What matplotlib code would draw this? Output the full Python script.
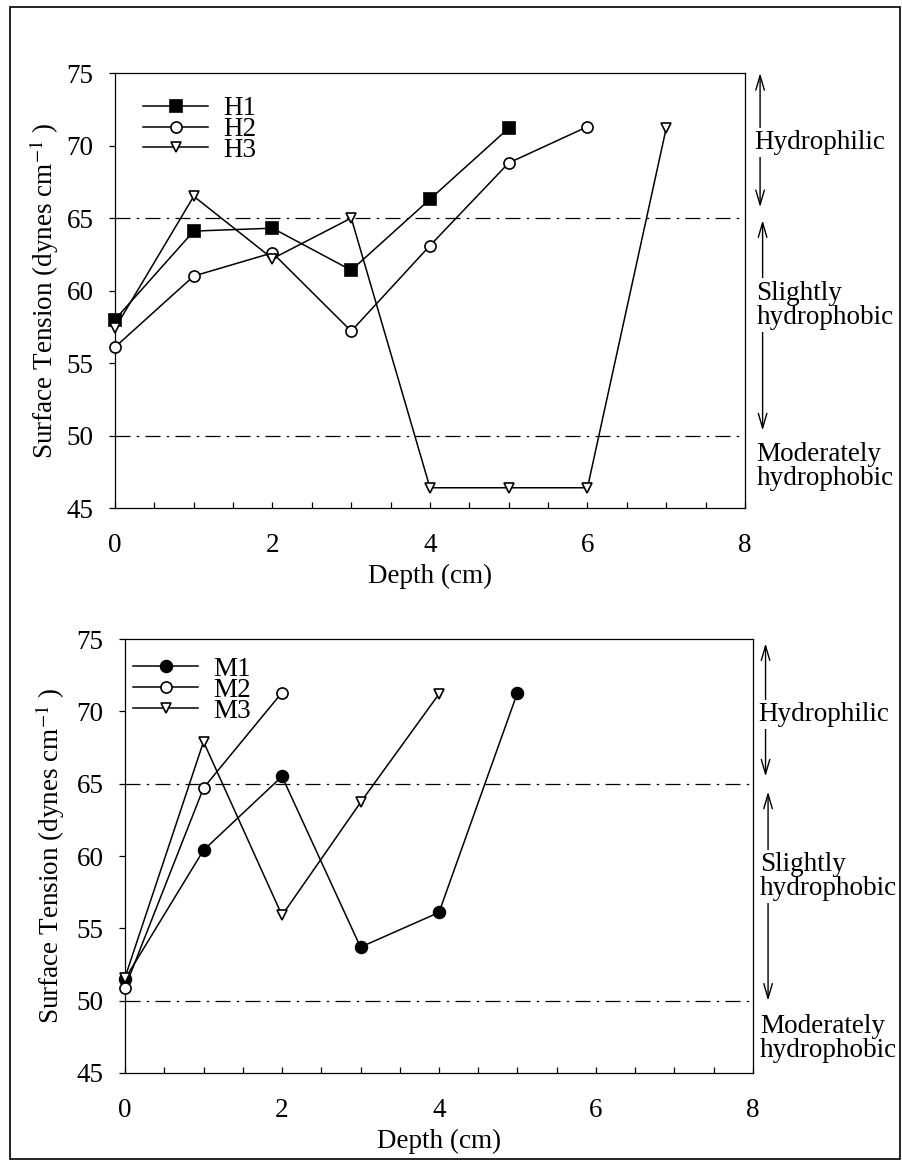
import matplotlib
matplotlib.use("Agg")
import matplotlib.pyplot as plt
from matplotlib.patches import Rectangle

plt.rcParams['font.family'] = ['Liberation Serif', 'DejaVu Serif']
plt.rcParams['mathtext.fontset'] = 'stix'

# surface tension profiles (dynes cm^-1) against depth (cm)
h1_depth = [0, 1, 2, 3, 4, 5]
h1_st = [58.0, 64.1, 64.3, 61.4, 66.3, 71.2]
h2_depth = [0, 1, 2, 3, 4, 5, 6]
h2_st = [56.1, 61.0, 62.6, 57.2, 63.1, 68.8, 71.3]
h3_depth = [0, 1, 2, 3, 4, 5, 6, 7]
h3_st = [57.4, 66.5, 62.2, 65.0, 46.4, 46.4, 46.4, 71.2]

m1_depth = [0, 1, 2, 3, 4, 5]
m1_st = [51.5, 60.4, 65.5, 53.7, 56.1, 71.3]
m2_depth = [0, 1, 2]
m2_st = [50.9, 64.7, 71.3]
m3_depth = [0, 1, 2, 3, 4]
m3_st = [51.6, 67.9, 55.9, 63.7, 71.2]

# class boundaries
limits = [65, 50]

FS = 19.5

fig = plt.figure(figsize=(9.02, 11.61), dpi=100)
fig.patches.append(Rectangle((10 / 902, 1 - 1159 / 1161), 890 / 902, 1152 / 1161,
                             transform=fig.transFigure, fill=False, lw=1.2,
                             edgecolor='black'))

ax1 = fig.add_axes([0.1275, 0.5624, 0.6984, 0.3747])
ax2 = fig.add_axes([0.1386, 0.0758, 0.6962, 0.3738])


def draw_series(ax, x, y, marker, face, ms, label):
    ax.plot(x, y, color='black', lw=1.1, marker=marker, ms=ms,
            markerfacecolor=face, markeredgecolor='black', mew=1.2,
            label=label, clip_on=False, zorder=3)


def setup(ax):
    ax.set_xlim(0, 8)
    ax.set_ylim(45, 75)
    ax.set_xticks([0, 2, 4, 6, 8])
    ax.set_xticks([x * 0.5 for x in range(17)], minor=True)
    ax.set_yticks([45, 50, 55, 60, 65, 70, 75])
    ax.tick_params(axis='x', which='both', direction='in', length=4.5,
                   width=0.9, labelsize=FS, pad=18)
    ax.tick_params(axis='x', which='both', top=False)
    ax.tick_params(axis='y', direction='out', length=4.5, width=0.9,
                   labelsize=FS, pad=11)
    for s in ax.spines.values():
        s.set_linewidth(0.9)
    for v in limits:
        ax.axhline(v, color='black', lw=0.9, dashes=(12, 5, 2, 5), zorder=1)
    ax.set_xlabel('Depth (cm)', fontsize=FS, labelpad=4)
    ax.set_ylabel('Surface Tension (dynes cm$^{-1}$ )', fontsize=FS)


def zones(ax, xa, xt, hyd, sli, mod):
    tr = ax.get_yaxis_transform()
    arrow = dict(arrowstyle='<->,head_length=0.75,head_width=0.22',
                 lw=1.0, color='black', shrinkA=0, shrinkB=0)
    box = dict(facecolor='white', edgecolor='none', pad=1.5)
    # hydrophilic band
    ax.annotate('', xy=(xa, hyd[1]), xytext=(xa, hyd[0]), xycoords=tr,
                textcoords=tr, arrowprops=dict(arrow, mutation_scale=14),
                annotation_clip=False)
    ax.text(xt, hyd[2], 'Hydrophilic', transform=tr, fontsize=FS,
            ha='left', va='center', bbox=box, clip_on=False)
    # slightly hydrophobic band
    ax.annotate('', xy=(xa + 0.004, sli[1]), xytext=(xa + 0.004, sli[0]),
                xycoords=tr, textcoords=tr,
                arrowprops=dict(arrow, mutation_scale=14),
                annotation_clip=False)
    ax.text(xt + 0.003, sli[2], 'Slightly\nhydrophobic', transform=tr,
            fontsize=FS, ha='left', va='center', linespacing=0.95,
            bbox=box, clip_on=False)
    ax.text(xt + 0.003, mod, 'Moderately\nhydrophobic', transform=tr,
            fontsize=FS, ha='left', va='center', linespacing=0.95,
            clip_on=False)


# top panel
setup(ax1)
draw_series(ax1, h1_depth, h1_st, 's', 'black', 8, 'H1')
draw_series(ax1, h2_depth, h2_st, 'o', 'white', 8, 'H2')
draw_series(ax1, h3_depth, h3_st, 'v', 'white', 7.5, 'H3')
ax1.yaxis.set_label_coords(-0.085, 0.5)
ax1.legend(loc='upper left', bbox_to_anchor=(0.045, 0.947), frameon=False,
           fontsize=FS, handlelength=2.4, handletextpad=0.55,
           labelspacing=-0.15, borderpad=0, borderaxespad=0)
zones(ax1, 1.024, 1.015, (75, 65.75, 70.2), (64.85, 50.35, 59.0), 47.85)

# bottom panel
setup(ax2)
draw_series(ax2, m1_depth, m1_st, 'o', 'black', 8.5, 'M1')
draw_series(ax2, m2_depth, m2_st, 'o', 'white', 8, 'M2')
draw_series(ax2, m3_depth, m3_st, 'v', 'white', 7.5, 'M3')
ax2.yaxis.set_label_coords(-0.093, 0.5)
ax2.legend(loc='upper left', bbox_to_anchor=(0.013, 0.959), frameon=False,
           fontsize=FS, handlelength=2.4, handletextpad=0.55,
           labelspacing=-0.15, borderpad=0, borderaxespad=0)
zones(ax2, 1.020, 1.008, (74.7, 65.5, 69.8), (64.45, 50.0, 58.6), 47.4)

fig.savefig('out.png', dpi=100)
